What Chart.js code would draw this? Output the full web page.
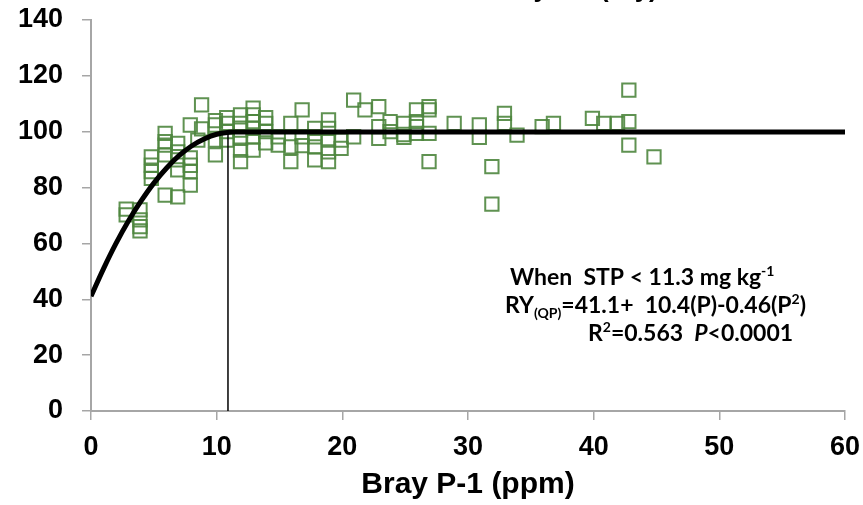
<!DOCTYPE html>
<html>
<head>
<meta charset="utf-8">
<script src="https://cdn.jsdelivr.net/npm/chart.js@4.4.1/dist/chart.umd.min.js"></script>
<style>
  html, body { margin: 0; padding: 0; background: #fff; }
  #wrap { width: 863px; height: 505px; position: relative; }
</style>
</head>
<body>
<div id="wrap"><canvas id="chart" width="863" height="505"></canvas></div>
<script>
// ─── Data ─────────────────────────────────────────────────

const pointX = [
  2.8, 2.8,
  3.9, 3.9, 3.9, 3.9,
  4.8, 4.8, 4.8, 4.8,
  5.9, 5.9, 5.9, 5.9, 5.9,
  6.9, 6.9, 6.9, 6.9, 6.9,
  7.9, 7.9, 7.9, 7.9, 7.9,
  8.8, 8.8, 8.5,
  9.9, 9.9, 9.9, 9.9,
  10.8, 10.8, 10.8, 10.8,
  11.9, 11.9, 11.9, 11.9, 11.9, 11.9,
  12.9, 12.9, 12.9, 12.9, 12.9, 12.9,
  13.9, 13.9, 13.9, 13.9,
  14.9, 14.9,
  15.9, 15.9, 15.9,
  16.8, 16.8, 16.8,
  17.8, 17.8, 17.8, 17.8,
  18.9, 18.9, 18.9, 18.9, 18.9,
  19.9, 19.9,
  20.9, 20.9,
  21.8,
  22.9, 22.9, 22.9,
  23.8, 23.8,
  24.9, 24.9, 24.9,
  25.9, 25.9, 25.9, 25.9,
  26.9, 26.9, 26.9, 26.9,
  28.9,
  30.9, 30.9,
  31.9, 31.9,
  32.9, 32.9,
  33.9,
  35.9,
  36.8,
  39.9,
  40.8,
  41.9,
  42.8, 42.8, 42.8,
  44.8
];
const pointY = [
  72.3, 70.2,
  72, 68.4, 66, 64.5,
  91, 88, 85.7, 83.3,
  99.4, 96.4, 95.2, 91.7, 77.3,
  95.8, 92.8, 89.9, 86.3, 76.7,
  102.4, 90.6, 88, 85.7, 80.9,
  109.6, 101, 97,
  104, 102.4, 97, 91.7,
  105, 103, 100, 97,
  106, 103, 100.6, 97.6, 93.4, 89.3,
  108.4, 106, 103.6, 101.2, 98.2, 93.4,
  105, 103, 100, 96,
  98.2, 95.2,
  103, 94.6, 89.3,
  107.8, 98.2, 95,
  101.2, 98.2, 94.6, 89.9,
  104.2, 101.2, 97, 92.8, 89.3,
  97, 94,
  111.3, 98.2,
  107.8,
  109, 101.8, 97.6,
  103.6, 100,
  103, 99, 98,
  107.8, 103.6, 101.8, 99.4,
  109, 107.8, 99.4, 89.3,
  103,
  102.4, 98,
  87.5, 74.1,
  106.6, 103,
  98.8,
  101.8,
  103,
  104.8,
  103,
  103,
  114.9, 103.6, 95.2,
  91
];

// quadratic-plateau fit
const curveX = [0, 1, 2, 3, 4, 5, 6, 7, 8, 9, 10, 11, 11.3, 60];
const curveY = [41.1, 51, 60.1, 68.2, 75.3, 81.6, 86.9, 91.4, 94.9, 97.4, 99.1, 99.8, 99.9, 99.9];

// thin vertical line at the critical value
const cutoffX = [10.9, 10.9];
const cutoffY = [0, 99.6];

const xTicks = [0, 10, 20, 30, 40, 50, 60];
const yTicks = [0, 20, 40, 60, 80, 100, 120, 140];

const titleText = 'Relative yield (dry)';
const axisTitle = 'Bray P-1 (ppm)';

// ─── Helpers ──────────────────────────────────────────────

const zip = (xs, ys) => xs.map((x, i) => ({ x, y: ys[i] }));
const sansFam = "'Liberation Sans', Arial, sans-serif";
const tickFont = { family: sansFam, size: 27, weight: 'bold' };
const axisGrey = '#a6a6a6';

// half-hidden title at the very top + the fit annotation
const textPlugin = {
  id: 'texts',
  afterDraw(chart) {
    const ctx = chart.ctx;
    ctx.save();
    ctx.fillStyle = '#000';

    // title, mostly cut off by the top edge
    ctx.font = `bold 26px ${sansFam}`;
    ctx.textBaseline = 'alphabetic';
    ctx.textAlign = 'left';
    const tx = 600 - ctx.measureText('Relative yield ').width;
    ctx.fillText(titleText, tx, -3);

    // annotation block
    const fam = "Lato, 'Open Sans', sans-serif";
    const big = `bold 23px ${fam}`;
    const small = `bold 14px ${fam}`;
    const bigIt = `italic bold 23px ${fam}`;
    const drawRun = (parts, x, y) => {
      let cx = x;
      for (const p of parts) {
        ctx.font = p.f || big;
        ctx.fillText(p.t, cx, y + (p.dy || 0));
        cx += ctx.measureText(p.t).width;
      }
    };
    drawRun([{ t: 'When  STP < 11.3 mg kg' }, { t: '-1', f: small, dy: -9 }], 510, 285);
    drawRun([
      { t: 'RY' }, { t: '(QP)', f: small, dy: 5 },
      { t: '=41.1+  10.4(P)-0.46(P' }, { t: '2', f: small, dy: -9 }, { t: ')' }
    ], 505, 313);
    drawRun([
      { t: 'R' }, { t: '2', f: small, dy: -9 }, { t: '=0.563  ' },
      { t: 'P', f: bigIt }, { t: '<0.0001' }
    ], 588, 341);
    ctx.restore();
  }
};

// ─── Chart ────────────────────────────────────────────────

new Chart(document.getElementById('chart').getContext('2d'), {
  type: 'scatter',
  data: {
    datasets: [
      {
        label: 'Fit',
        type: 'line',
        data: zip(curveX, curveY),
        borderColor: '#000',
        borderWidth: 5,
        pointRadius: 0,
        cubicInterpolationMode: 'monotone',
        fill: false,
        order: 0
      },
      {
        label: 'Critical',
        type: 'line',
        data: zip(cutoffX, cutoffY),
        borderColor: '#000',
        borderWidth: 1.5,
        pointRadius: 0,
        fill: false,
        order: 0
      },
      {
        label: 'RY',
        data: zip(pointX, pointY),
        pointStyle: 'rect',
        pointRadius: 9.4,
        pointHoverRadius: 9.4,
        pointBackgroundColor: 'rgba(0,0,0,0)',
        pointBorderColor: 'rgba(78,134,62,0.9)',
        pointBorderWidth: 2,
        order: 1
      }
    ]
  },
  options: {
    responsive: false,
    animation: false,
    layout: { padding: { top: 20, right: 18, left: 0, bottom: 0 } },
    plugins: {
      legend: { display: false },
      tooltip: { enabled: false }
    },
    scales: {
      x: {
        type: 'linear',
        min: 0, max: 60,
        afterBuildTicks: s => { s.ticks = xTicks.map(v => ({ value: v })); },
        afterFit: s => {
          s.height = 94;
          s.paddingLeft = 0; s.paddingRight = 0;
        },
        grid: { drawOnChartArea: false, drawTicks: true, tickLength: 9, color: axisGrey, lineWidth: 1.5 },
        border: { display: true, color: axisGrey, width: 2 },
        ticks: { color: '#000', font: tickFont, padding: 11, maxRotation: 0 },
        title: {
          display: true,
          text: axisTitle,
          color: '#000',
          font: { family: sansFam, size: 30, weight: 'bold' },
          padding: { top: 0, bottom: 2 }
        }
      },
      y: {
        type: 'linear',
        min: 0, max: 140,
        afterBuildTicks: s => { s.ticks = yTicks.map(v => ({ value: v })); },
        afterFit: s => {
          s.width = 91;
          s.paddingTop = 0; s.paddingBottom = 0;
        },
        grid: { drawOnChartArea: false, drawTicks: true, tickLength: 9, color: axisGrey, lineWidth: 1.5 },
        border: { display: true, color: axisGrey, width: 2 },
        ticks: { color: '#000', font: tickFont, padding: 19 }
      }
    }
  },
  plugins: [textPlugin]
});
</script>
</body>
</html>
